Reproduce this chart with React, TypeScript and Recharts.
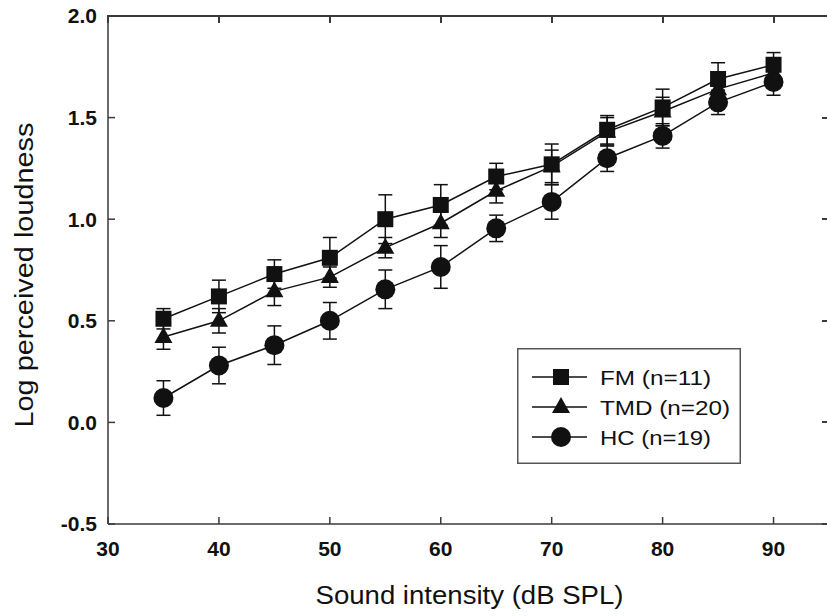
import React from 'react'
import {
  LineChart,
  Line,
  XAxis,
  YAxis,
  ErrorBar,
  Legend,
} from 'recharts'

// sound intensity levels (dB SPL)
const intensity = [35, 40, 45, 50, 55, 60, 65, 70, 75, 80, 85, 90]

// log perceived loudness, mean and error per group
const fmMean = [0.51, 0.62, 0.73, 0.81, 1.0, 1.07, 1.21, 1.27, 1.44, 1.55, 1.69, 1.76]
const fmErr = [0.05, 0.08, 0.07, 0.1, 0.12, 0.1, 0.065, 0.1, 0.07, 0.09, 0.08, 0.06]
const tmdMean = [0.42, 0.5, 0.645, 0.715, 0.86, 0.98, 1.14, 1.26, 1.43, 1.53, 1.64, 1.72]
const tmdErr = [0.06, 0.06, 0.07, 0.05, 0.05, 0.07, 0.06, 0.08, 0.07, 0.07, 0.06, 0.05]
const hcMean = [0.12, 0.28, 0.38, 0.5, 0.655, 0.765, 0.955, 1.085, 1.3, 1.41, 1.575, 1.675]
const hcErr = [0.085, 0.09, 0.095, 0.09, 0.095, 0.105, 0.065, 0.085, 0.065, 0.06, 0.06, 0.065]

const xTicks = [30, 40, 50, 60, 70, 80, 90]
const yTicks = [-0.5, 0, 0.5, 1.0, 1.5, 2.0]
const xDomain = [30, 95]
const yDomain = [-0.5, 2.0]

const legendItems = [
  { name: 'FM (n=11)', shape: 'square', width: 111 },
  { name: 'TMD (n=20)', shape: 'triangle', width: 130 },
  { name: 'HC (n=19)', shape: 'circle', width: 111 },
]

const data = intensity.map((x, i) => ({
  x,
  fm: fmMean[i],
  fmErr: fmErr[i],
  tmd: tmdMean[i],
  tmdErr: tmdErr[i],
  hc: hcMean[i],
  hcErr: hcErr[i],
}))

const FONT = '"Liberation Sans", Arial, sans-serif'
const INK = '#111'
const AXIS = '#3a3a3a'

const CHART_W = 840
const CHART_H = 616
const MARGIN = { top: 16, right: 11, left: 0, bottom: 0 }
const Y_AXIS_W = 108
const X_AXIS_H = 92
const PLOT_LEFT = MARGIN.left + Y_AXIS_W
const PLOT_TOP = MARGIN.top
const PLOT_RIGHT = CHART_W - MARGIN.right
const PLOT_BOTTOM = CHART_H - MARGIN.bottom - X_AXIS_H
const TICK = 7

function Marker({ shape, cx, cy }: { shape: string; cx: number; cy: number }) {
  if (shape === 'square') {
    return <rect x={cx - 8} y={cy - 8} width={16} height={16} fill={INK} />
  }
  if (shape === 'triangle') {
    return (
      <polygon
        points={`${cx},${cy - 10} ${cx - 9},${cy + 6} ${cx + 9},${cy + 6}`}
        fill={INK}
      />
    )
  }
  return <circle cx={cx} cy={cy} r={10} fill={INK} />
}

const makeDot = (shape: string) => (props: any) => {
  const { cx, cy, index } = props
  if (cx == null || cy == null) return <g key={index} />
  return (
    <g key={`${shape}-${index}`}>
      <Marker shape={shape} cx={cx} cy={cy} />
    </g>
  )
}

// top and right frame of the plot box with inward ticks, as plain html
function Frame() {
  const w = PLOT_RIGHT - PLOT_LEFT
  const h = PLOT_BOTTOM - PLOT_TOP
  const px = (v: number) => PLOT_LEFT + ((v - xDomain[0]) / (xDomain[1] - xDomain[0])) * w
  const py = (v: number) => PLOT_TOP + ((yDomain[1] - v) / (yDomain[1] - yDomain[0])) * h
  const bar = (left: number, top: number, width: number, height: number, key: string) => (
    <div
      key={key}
      style={{ position: 'absolute', left, top, width, height, background: AXIS }}
    />
  )
  return (
    <div style={{ position: 'absolute', left: 0, top: 0, width: CHART_W, height: CHART_H, pointerEvents: 'none' }}>
      {bar(PLOT_LEFT - 1, PLOT_TOP - 1, w + 2, 2, 'top')}
      {bar(PLOT_RIGHT - 1, PLOT_TOP - 1, 2, h + 2, 'right')}
      {xTicks.map((t) => bar(px(t) - 1, PLOT_TOP, 2, TICK, `x${t}`))}
      {yTicks.map((t) => bar(PLOT_RIGHT - TICK, py(t) - 1, TICK, 2, `y${t}`))}
    </div>
  )
}

function LegendBox() {
  return (
    <svg width={224} height={116} style={{ display: 'block' }}>
      <rect x={0.75} y={0.75} width={222.5} height={114.5} fill="#fff" stroke="#555" strokeWidth={1.5} />
      {legendItems.map((item, i) => {
        const cy = 29 + i * 30
        return (
          <g key={item.name}>
            <line x1={15} x2={70} y1={cy} y2={cy} stroke={INK} strokeWidth={1.5} />
            <Marker shape={item.shape} cx={44} cy={cy} />
            <text
              x={83}
              y={cy + 7.5}
              fontSize={21}
              fontFamily={FONT}
              fill={INK}
              textLength={item.width}
              lengthAdjust="spacingAndGlyphs"
            >
              {item.name}
            </text>
          </g>
        )
      })}
    </svg>
  )
}

const tickStyle = { fontSize: 21, fontWeight: 'bold', fill: INK, fontFamily: FONT }

export default function App() {
  return (
    <div
      style={{
        position: 'fixed',
        left: 0,
        top: 0,
        width: 827,
        height: 616,
        overflow: 'hidden',
        background: '#fff',
      }}
    >
      <LineChart width={CHART_W} height={CHART_H} data={data} margin={MARGIN}>
        <XAxis
          dataKey="x"
          type="number"
          domain={xDomain}
          ticks={xTicks}
          height={X_AXIS_H}
          tickSize={-TICK}
          tickMargin={24}
          tick={tickStyle}
          stroke={AXIS}
          strokeWidth={1.5}
          label={{
            content: ({ viewBox }: any) => (
              <text
                x={viewBox.x + viewBox.width / 2 + 1}
                y={604}
                textAnchor="middle"
                fontSize={26}
                fontFamily={FONT}
                fill={INK}
                textLength={308}
                lengthAdjust="spacingAndGlyphs"
              >
                Sound intensity (dB SPL)
              </text>
            ),
          }}
        />
        <YAxis
          type="number"
          domain={yDomain}
          ticks={yTicks}
          width={Y_AXIS_W}
          tickSize={-TICK}
          tickMargin={18}
          tick={tickStyle}
          tickFormatter={(v: number) => v.toFixed(1)}
          stroke={AXIS}
          strokeWidth={1.5}
          label={{
            content: () => (
              <text
                x={0}
                y={0}
                transform="translate(33, 275) rotate(-90)"
                textAnchor="middle"
                fontSize={26}
                fontFamily={FONT}
                fill={INK}
                textLength={305}
                lengthAdjust="spacingAndGlyphs"
              >
                Log perceived loudness
              </text>
            ),
          }}
        />
        <Legend
          layout="vertical"
          align="center"
          verticalAlign="middle"
          wrapperStyle={{ left: 517, top: 348, width: 224, height: 116 }}
          content={() => <LegendBox />}
        />
        <Line
          dataKey="hc"
          name="HC (n=19)"
          stroke={INK}
          strokeWidth={1.5}
          dot={makeDot('circle')}
          activeDot={false}
          isAnimationActive={false}
        >
          <ErrorBar dataKey="hcErr" direction="y" width={7} stroke={INK} strokeWidth={1.5} isAnimationActive={false} />
        </Line>
        <Line
          dataKey="tmd"
          name="TMD (n=20)"
          stroke={INK}
          strokeWidth={1.5}
          dot={makeDot('triangle')}
          activeDot={false}
          isAnimationActive={false}
        >
          <ErrorBar dataKey="tmdErr" direction="y" width={7} stroke={INK} strokeWidth={1.5} isAnimationActive={false} />
        </Line>
        <Line
          dataKey="fm"
          name="FM (n=11)"
          stroke={INK}
          strokeWidth={1.5}
          dot={makeDot('square')}
          activeDot={false}
          isAnimationActive={false}
        >
          <ErrorBar dataKey="fmErr" direction="y" width={7} stroke={INK} strokeWidth={1.5} isAnimationActive={false} />
        </Line>
      </LineChart>
      <Frame />
    </div>
  )
}
